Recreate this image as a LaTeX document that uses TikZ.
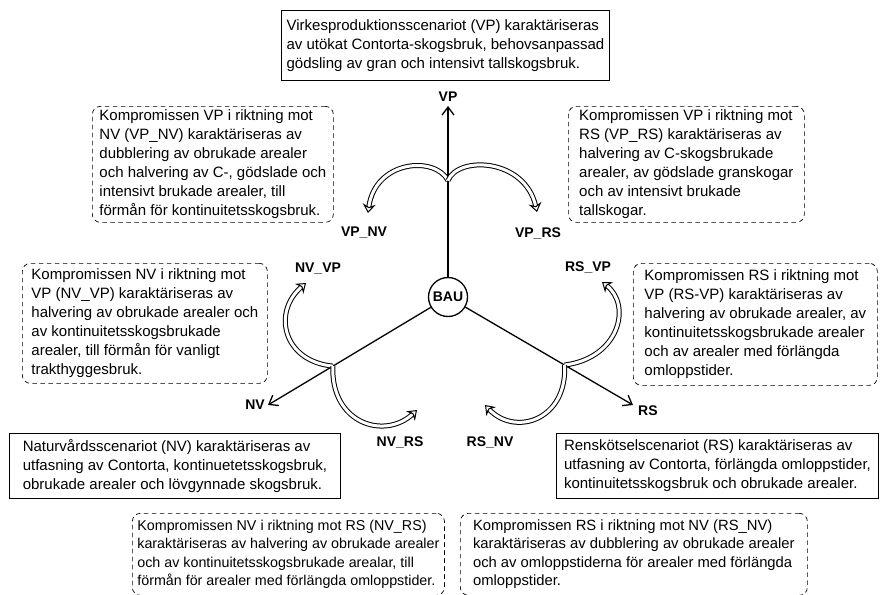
\documentclass[tikz,border=0pt]{standalone}
\usepackage{fontspec}
\setmainfont{Liberation Sans}
\usetikzlibrary{arrows.meta,calc,positioning}

\tikzset{
  scenbox/.style={draw, line width=0.9pt, anchor=north west, align=left,
    inner xsep=5pt, inner ysep=2pt, font=\fontsize{15}{19}\selectfont},
  dashbox/.style={scenbox, line width=0.7pt, dash pattern=on 4.5pt off 3.5pt,
    rounded corners=8pt},
  lbl/.style={font=\bfseries\fontsize{14}{16}\selectfont, inner sep=1pt},
  axisline/.style={line width=1.3pt, -{Straight Barb[length=8pt,width=12pt]}},
  ribbon/.style={line width=1pt, double=white, double distance=3pt,
    -{Stealth[open, length=9pt, width=13pt, inset=3pt]}},
}

\begin{document}
\begin{tikzpicture}[x=1pt, y=-1pt]
  \useasboundingbox (0,0) rectangle (885,594);

  % Scenarios and their axes
  \node[circle, draw, line width=1.3pt, minimum size=39pt, inner sep=0pt, lbl] (bau) at (448,297) {BAU};
  \coordinate (vptip) at (448,106);
  \coordinate (nvtip) at (268,405);
  \coordinate (rstip) at (633,405);
  \node[lbl, above=3pt] (vp) at (vptip) {VP};
  \node[lbl, left=2pt] (nv) at (nvtip) {NV};
  \node[lbl, below right=0pt and 4pt] (rs) at (rstip) {RS};
  \draw[axisline] (bau) -- (vptip);
  \draw[axisline] (bau) -- (nvtip);
  \draw[axisline] (bau) -- (rstip);

  % Compromises, bent off the axes
  \coordinate (vpx) at ($(bau)!0.61!(vptip)$);
  \coordinate (nvx) at ($(bau)!0.64!(nvtip)$);
  \coordinate (rsx) at ($(bau)!0.63!(rstip)$);
  \node[lbl] (vpnv) at (364,233) {VP\_NV};
  \node[lbl] (vprs) at (538,233) {VP\_RS};
  \node[lbl] (nvvp) at (318,269) {NV\_VP};
  \node[lbl] (rsvp) at (588,267) {RS\_VP};
  \node[lbl] (nvrs) at (400,442) {NV\_RS};
  \node[lbl] (rsnv) at (490,442) {RS\_NV};
  \draw[ribbon] (vpx) .. controls +(-13,-25) and +(7,-53) .. (368,213);
  \draw[ribbon] (vpx) .. controls +(10,-25) and +(-12,-54) .. (537,212);
  \draw[ribbon] (nvx) .. controls +(-50,-5) and +(-34,29) .. (306,283);
  \draw[ribbon] (nvx) .. controls +(-2,58) and +(-32,30) .. (417,410);
  \draw[ribbon] (rsx) .. controls +(55,-7) and +(30,23) .. (602,282);
  \draw[ribbon] (rsx) .. controls +(3,55) and +(30,32) .. (485,405);

  % Scenario descriptions
  \node[scenbox, minimum width=328pt, minimum height=70pt] (vpbox) at (281,10)
    {Virkesproduktionsscenariot (VP) karaktäriseras\\ av utökat Contorta-skogsbruk, behovsanpassad\\ gödsling av gran och intensivt tallskogsbruk.};
  \node[scenbox, minimum width=331pt, minimum height=65pt] (nvbox) at (9,433)
    {Naturvårdsscenariot (NV) karaktäriseras av\\ utfasning av Contorta, kontinuetetsskogsbruk,\\ obrukade arealer och lövgynnade skogsbruk.};
  \node[scenbox, minimum width=322pt, minimum height=65pt] (rsbox) at (556,433)
    {Renskötselscenariot (RS) karaktäriseras av\\ utfasning av Contorta, förlängda omloppstider,\\ kontinuitetsskogsbruk och obrukade arealer.};

  % Compromise descriptions
  \node[dashbox, minimum width=241pt, minimum height=116pt] (vpnvbox) at (92,106)
    {Kompromissen VP i riktning mot\\ NV (VP\_NV) karaktäriseras av\\ dubblering av obrukade arealer\\ och halvering av C-, gödslade och\\ intensivt brukade arealer, till\\ förmån för kontinuitetsskogsbruk.};
  \node[dashbox, minimum width=236pt, minimum height=116pt] (vprsbox) at (568,106)
    {Kompromissen VP i riktning mot\\ RS (VP\_RS) karaktäriseras av\\ halvering av C-skogsbrukade\\ arealer, av gödslade granskogar\\ och av intensivt brukade\\ tallskogar.};
  \node[dashbox, minimum width=245pt, minimum height=120pt] (nvvpbox) at (22,263)
    {Kompromissen NV i riktning mot\\ VP (NV\_VP) karaktäriseras av\\ halvering av obrukade arealer och\\ av kontinuitetsskogsbrukade\\ arealer, till förmån för vanligt\\ trakthyggesbruk.};
  \node[dashbox, minimum width=244pt, minimum height=122pt] (rsvpbox) at (633,263)
    {Kompromissen RS i riktning mot\\ VP (RS-VP) karaktäriseras av\\ halvering av obrukade arealer, av\\ kontinuitetsskogsbrukade arealer\\ och av arealer med förlängda\\ omloppstider.};
  \node[dashbox, minimum width=311pt, minimum height=82pt, font=\fontsize{14.3}{18.5}\selectfont] (nvrsbox) at (132,513)
    {Kompromissen NV i riktning mot RS (NV\_RS)\\ karaktäriseras av halvering av obrukade arealer\\ och av kontinuitetsskogsbrukade arealar, till\\ förmån för arealer med förlängda omloppstider.};
  \node[dashbox, minimum width=347pt, minimum height=82pt, font=\fontsize{14.8}{18.5}\selectfont] (rsnvbox) at (460,513)
    {Kompromissen RS i riktning mot NV (RS\_NV)\\ karaktäriseras av dubblering av obrukade arealer\\ och av omloppstiderna för arealer med förlängda\\ omloppstider.};
\end{tikzpicture}
\end{document}
